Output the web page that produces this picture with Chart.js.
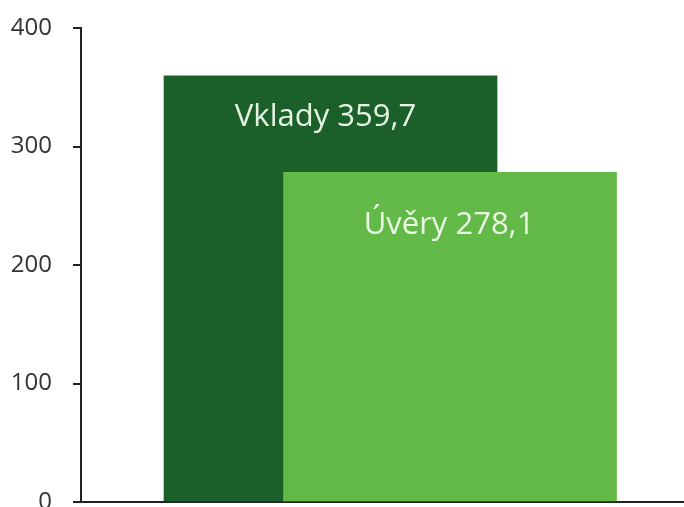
<!DOCTYPE html>
<html>
<head>
<meta charset="utf-8">
<script src="https://cdn.jsdelivr.net/npm/chart.js@4.4.1/dist/chart.umd.min.js"></script>
<style>
    html, body { margin: 0; padding: 0; background: #fff; }
    #wrap { width: 684px; height: 507px; position: relative; }
</style>
</head>
<body>
<div id="wrap"><canvas id="myChart"></canvas></div>
<script>
// data
const categories = ['Vklady', 'Úvěry'];
const values = [359.7, 278.1];
const barColors = ['#1b5f2a', '#63b947'];
const yTicks = [0, 100, 200, 300, 400];

// bar labels drawn inside each bar, under its top edge
const labelShift = [[-5, 41], [-1, 53]];
const barLabels = {
    id: 'barLabels',
    afterDatasetsDraw(chart) {
        const ctx = chart.ctx;
        const meta = chart.getDatasetMeta(0);
        ctx.save();
        ctx.font = '31px "Open Sans", sans-serif';
        ctx.fillStyle = 'rgba(240,252,236,0.95)';
        ctx.textAlign = 'center';
        ctx.textBaseline = 'middle';
        meta.data.forEach(function (bar, i) {
            const txt = categories[i] + ' ' + values[i].toFixed(1).replace('.', ',');
            ctx.fillText(txt, bar.x + labelShift[i][0], bar.y + labelShift[i][1]);
        });
        ctx.restore();
    }
};

const ctx = document.getElementById('myChart');

const myChart = new Chart(ctx, {
    type: 'bar',
    data: {
        datasets: [{
            label: 'Mld. Kč',
            data: values.map(function (v, i) { return { x: i, y: v }; }),
            backgroundColor: barColors,
            borderWidth: 0,
            barThickness: 333
        }]
    },
    options: {
        responsive: true,
        maintainAspectRatio: false,
        animation: false,
        layout: { padding: { top: 28, bottom: 5, left: 0, right: 0 } },
        plugins: {
            legend: { display: false },
            tooltip: { enabled: false }
        },
        scales: {
            x: {
                type: 'linear',
                offset: false,
                min: -2.088,
                max: 2.958,
                grid: { display: false },
                ticks: { display: false },
                border: { display: true, color: '#222', width: 2 },
                afterFit: function (scale) {
                    scale.height = 0;
                    scale.paddingLeft = 0;
                    scale.paddingRight = 0;
                }
            },
            y: {
                min: 0,
                max: 400,
                afterBuildTicks: function (scale) {
                    scale.ticks = yTicks.map(function (v) { return { value: v }; });
                },
                afterFit: function (scale) {
                    scale.width = 81;
                    scale.paddingTop = 0;
                    scale.paddingBottom = 0;
                },
                grid: {
                    drawOnChartArea: false,
                    drawTicks: true,
                    tickLength: 8,
                    color: '#222',
                    lineWidth: 2
                },
                border: { display: true, color: '#222', width: 2 },
                ticks: {
                    padding: 21,
                    color: '#333',
                    font: { family: '"Open Sans", sans-serif', size: 24 }
                }
            }
        }
    },
    plugins: [barLabels]
});
</script>
</body>
</html>
